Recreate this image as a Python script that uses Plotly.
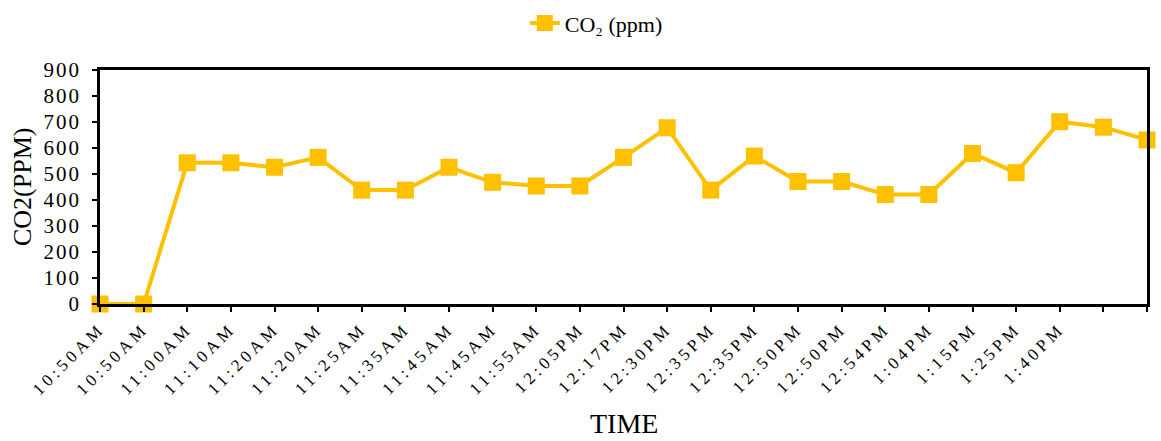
import plotly.graph_objects as go

time_labels = ["10:50AM", "10:50AM", "11:00AM", "11:10AM", "11:20AM", "11:20AM",
               "11:25AM", "11:35AM", "11:45AM", "11:45AM", "11:55AM", "12:05PM",
               "12:17PM", "12:30PM", "12:35PM", "12:35PM", "12:50PM", "12:50PM",
               "12:54PM", "1:04PM", "1:15PM", "1:25PM", "1:40PM", "", ""]
co2_ppm = [0, 0, 543, 543, 526, 564, 438, 438, 526, 468, 454, 454, 564, 678,
           438, 569, 471, 471, 421, 421, 579, 505, 701, 680, 631]
y_ticks = [0, 100, 200, 300, 400, 500, 600, 700, 800, 900]

x_idx = list(range(len(co2_ppm)))
font = "Liberation Serif"
color = "#FFC000"

fig = go.Figure()
fig.add_trace(go.Scatter(
    x=x_idx, y=co2_ppm, mode="lines+markers", name="CO₂ (ppm)",
    line=dict(color=color, width=4),
    marker=dict(symbol="square", size=17, color=color),
    cliponaxis=False,
))

fig.update_layout(
    width=1161, height=441,
    margin=dict(l=100, r=14, t=70, b=137),
    plot_bgcolor="white", paper_bgcolor="white",
    font=dict(family=font, color="black"),
    showlegend=True,
    legend=dict(orientation="h", x=0.474, xanchor="center", y=0.995, yanchor="top",
                yref="container", font=dict(size=22, family=font)),
    xaxis=dict(
        range=[0, len(co2_ppm) - 1],
        tickmode="array", tickvals=x_idx, ticktext=time_labels,
        tickangle=-45, tickfont=dict(size=17, family=font),
        showline=True, linecolor="black", linewidth=2.5, mirror=True,
        ticks="outside", ticklen=5, tickwidth=2, tickcolor="black",
        showgrid=False, zeroline=False,
    ),
    yaxis=dict(
        range=[0, 900], tickmode="array", tickvals=y_ticks,
        tickfont=dict(size=21, family=font), ticklabelstandoff=7,
        showline=True, linecolor="black", linewidth=2.5, mirror=True,
        ticks="outside", ticklen=5, tickwidth=2, tickcolor="black",
        showgrid=False, zeroline=False,
    ),
    annotations=[
        dict(text="TIME", xref="paper", yref="paper", x=0.5, y=-(423 - 304) / 234,
             xanchor="center", yanchor="middle", showarrow=False,
             font=dict(size=28, family=font)),
        dict(text="CO2(PPM)", xref="paper", yref="paper", x=(22 - 100) / 1047,
             y=0.5, xanchor="center", yanchor="middle", textangle=-90,
             showarrow=False, font=dict(size=26, family=font)),
    ],
)

post = ("document.querySelectorAll('.xtick text').forEach(function(t){t.style.letterSpacing='4px';});"
        "document.querySelectorAll('.ytick text').forEach(function(t){t.style.letterSpacing='2px';});")
fig.write_html("out.html", post_script=post)
